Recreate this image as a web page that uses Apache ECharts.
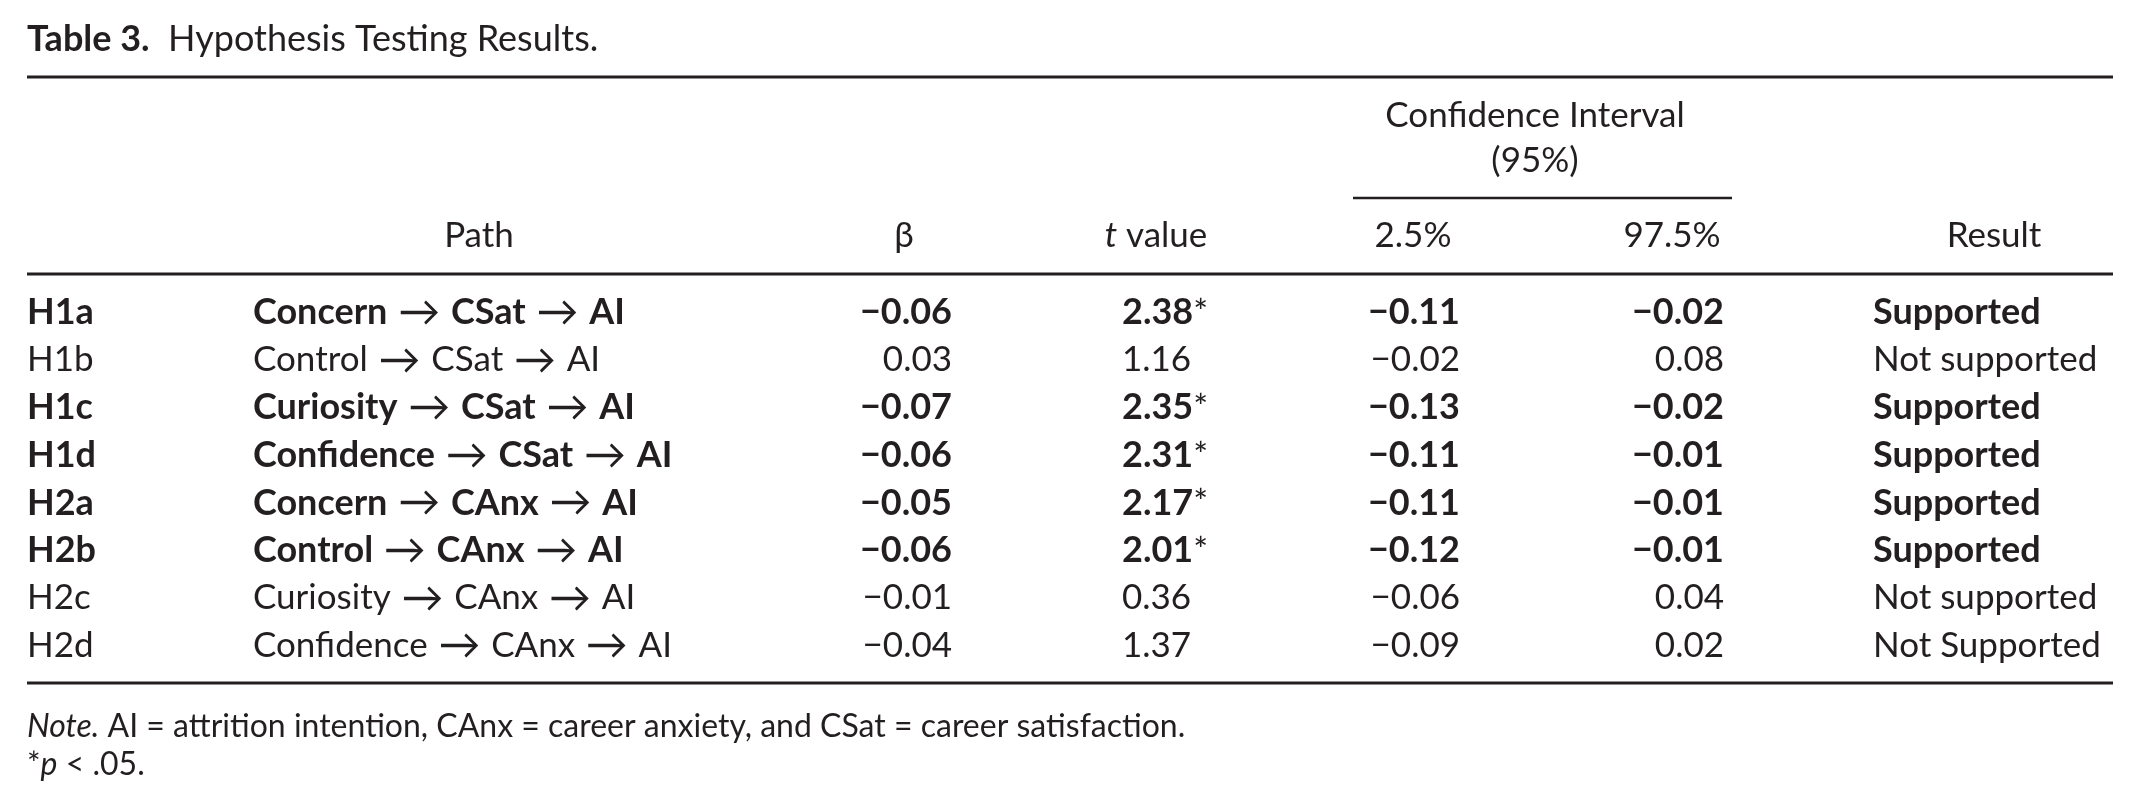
<!DOCTYPE html>
<html>
<head>
<meta charset="utf-8">
<script src="https://cdn.jsdelivr.net/npm/echarts@6/dist/echarts.min.js"></script>
<style>
html,body{margin:0;padding:0;background:#fff;}
#chart{width:2139px;height:808px;}
</style>
</head>
<body>
<div id="chart"></div>
<script>
// ---- data ----
var hypotheses = ['H1a','H1b','H1c','H1d','H2a','H2b','H2c','H2d'];
var paths = [
  ['Concern', 'CSat', 'AI'],
  ['Control', 'CSat', 'AI'],
  ['Curiosity', 'CSat', 'AI'],
  ['Confidence', 'CSat', 'AI'],
  ['Concern', 'CAnx', 'AI'],
  ['Control', 'CAnx', 'AI'],
  ['Curiosity', 'CAnx', 'AI'],
  ['Confidence', 'CAnx', 'AI']
];
var betas = [-0.06, 0.03, -0.07, -0.06, -0.05, -0.06, -0.01, -0.04];
var tValues = [2.38, 1.16, 2.35, 2.31, 2.17, 2.01, 0.36, 1.37];
var significant = [true, false, true, true, true, true, false, false];
var ciLow = [-0.11, -0.02, -0.13, -0.11, -0.11, -0.12, -0.06, -0.09];
var ciHigh = [-0.02, 0.08, -0.02, -0.01, -0.01, -0.01, 0.04, 0.02];
var results = ['Supported','Not supported','Supported','Supported','Supported','Supported','Not supported','Not Supported'];
var boldRow = [true, false, true, true, true, true, false, false];
var headers = ['Path', '\u03b2', 't value', '2.5%', '97.5%', 'Result'];

(function(){
// ---- layout (not data) ----
var FONT = 'Lato';
var FS = 35;
var BFS = 36;
var HFS = 35;
var TFS = 36;
var NFS = 32;
var INK = '#231f20';
var W = 2139;
var colX = {hyp: 27, path: 253, beta: 952, t: 1122, lo: 1460, hi: 1724, res: 1873};

function fmt(v){ var s = Math.abs(v).toFixed(2); return (v < 0 ? '\u2212' : '') + s; }

function makeRich(){
  return {
    b: {fontFamily: FONT, fontSize: BFS, fontWeight: 'bold', color: INK},
    r: {fontFamily: FONT, fontSize: FS, fontWeight: 'normal', color: INK},
    s: {fontFamily: FONT, fontSize: FS, fontWeight: 'normal', color: INK},
    a: {fontFamily: FONT, fontSize: 42, fontWeight: 'normal', color: INK}
  };
}

function cell(i, t){ return '{' + (boldRow[i] ? 'b' : 'r') + '|' + t + '}'; }

function column(name, x, align, textFn){
  return {
    type: 'scatter', name: name, symbolSize: 1, silent: true,
    itemStyle: {color: 'rgba(255,255,255,0)'},
    data: hypotheses.map(function(h){ return [x, h]; }),
    label: {
      show: true, position: 'inside', align: align, verticalAlign: 'middle',
      color: INK, opacity: 1,
      formatter: function(p){ return textFn(p.dataIndex); },
      rich: makeRich()
    }
  };
}

var series = [
  column('hyp', colX.hyp, 'left', function(i){ return cell(i, hypotheses[i]); }),
  column('path', colX.path, 'left', function(i){
    return paths[i].map(function(p){ return cell(i, p); }).join('{a| \u2192 }');
  }),
  column('beta', colX.beta, 'right', function(i){ return cell(i, fmt(betas[i])); }),
  column('t', colX.t, 'left', function(i){ return cell(i, tValues[i].toFixed(2)) + (significant[i] ? '{s|*}' : ''); }),
  column('lo', colX.lo, 'right', function(i){ return cell(i, fmt(ciLow[i])); }),
  column('hi', colX.hi, 'right', function(i){ return cell(i, fmt(ciHigh[i])); }),
  column('res', colX.res, 'left', function(i){ return cell(i, results[i]); })
];

function txt(x, y, text, align, richStyle, size){
  var st = {
    text: text, textAlign: align, textVerticalAlign: 'middle',
    font: 'normal ' + (size || HFS) + 'px ' + FONT, fill: INK
  };
  if (richStyle) st.rich = richStyle;
  return {type: 'text', x: x, y: y, silent: true, style: st};
}
function hline(x1, x2, y, w){
  return {type: 'line', silent: true, shape: {x1: x1, y1: y, x2: x2, y2: y}, style: {stroke: INK, lineWidth: w}};
}

var graphic = [
  txt(27, 39, '{b|Table 3.}{r|  Hypothesis Testing Results.}', 'left', {
    b: {fontFamily: FONT, fontSize: TFS, fontWeight: 'bold', fill: INK},
    r: {fontFamily: FONT, fontSize: TFS, fill: INK}
  }),
  hline(27, 2113, 77, 3),
  txt(1535, 116, 'Confidence Interval', 'center'),
  txt(1535, 161, '(95%)', 'center'),
  hline(1353, 1732, 198, 2.5),
  txt(479, 236, headers[0], 'center'),
  txt(904, 236, headers[1], 'center'),
  txt(1156, 236, '{i|t}{r| value}', 'center', {
    i: {fontFamily: FONT, fontSize: HFS, fontStyle: 'italic', fill: INK},
    r: {fontFamily: FONT, fontSize: HFS, fill: INK}
  }),
  txt(1413, 236, headers[3], 'center'),
  txt(1672, 236, headers[4], 'center'),
  txt(1994, 236, headers[5], 'center'),
  hline(27, 2113, 274, 3),
  hline(27, 2113, 683, 3),
  txt(27, 727, '{i|Note.}{r| AI = attrition intention, CAnx = career anxiety, and CSat = career satisfaction.}', 'left', {
    i: {fontFamily: FONT, fontSize: NFS, fontStyle: 'italic', fill: INK},
    r: {fontFamily: FONT, fontSize: NFS, fill: INK}
  }),
  txt(27, 765, '{r|*}{i|p}{r| < .05.}', 'left', {
    i: {fontFamily: FONT, fontSize: NFS, fontStyle: 'italic', fill: INK},
    r: {fontFamily: FONT, fontSize: NFS, fill: INK}
  })
];

var ROWH = 47.6;
var gridTop = 312.5 - ROWH / 2;
var chart = echarts.init(document.getElementById('chart'), null, {renderer: 'canvas'});
chart.setOption({
  animation: false,
  backgroundColor: '#ffffff',
  grid: {left: 0, right: 0, top: gridTop, height: ROWH * hypotheses.length},
  xAxis: {type: 'value', min: 0, max: W, show: false},
  yAxis: {type: 'category', data: hypotheses, inverse: true, show: false},
  series: series,
  graphic: graphic
});
})();
</script>
</body>
</html>
